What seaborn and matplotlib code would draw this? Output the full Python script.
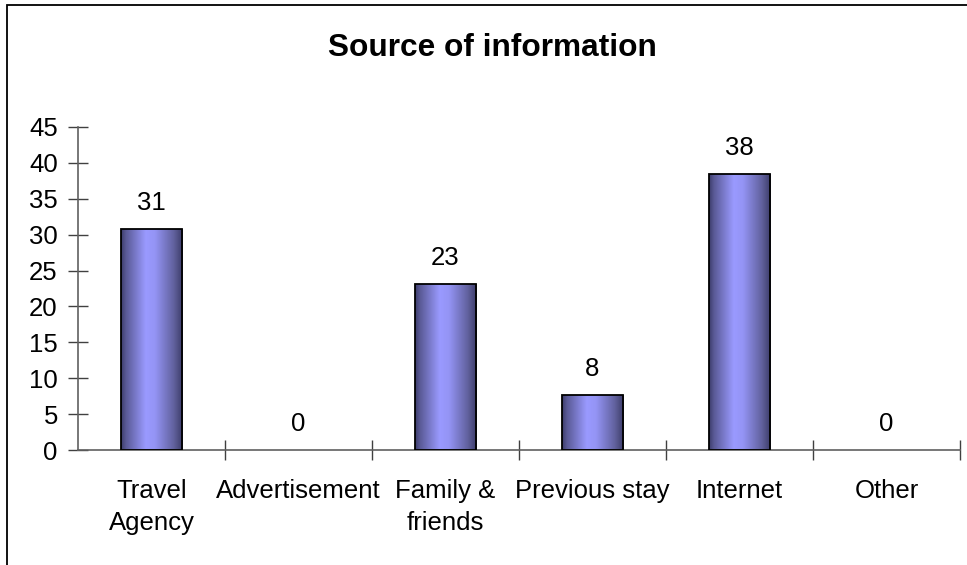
import numpy as np
import pandas as pd
import matplotlib
matplotlib.use("Agg")
import matplotlib.pyplot as plt
import seaborn as sns
from matplotlib.colors import LinearSegmentedColormap
from matplotlib.patches import Rectangle

categories = ["Travel\nAgency", "Advertisement", "Family &\nfriends", "Previous stay", "Internet", "Other"]
values = [30.8, 0, 23.1, 7.7, 38.5, 0]
yticks = [0, 5, 10, 15, 20, 25, 30, 35, 40, 45]
title = "Source of information"

df = pd.DataFrame({"cat": categories, "val": values})

sns.set_theme(style="white")
plt.rcParams["font.family"] = ["Liberation Sans", "DejaVu Sans"]
plt.rcParams["text.color"] = "black"
plt.rcParams["xtick.color"] = "black"
plt.rcParams["ytick.color"] = "black"

W, H = 967, 565
fig = plt.figure(figsize=(W / 100, H / 100), dpi=100)
ax = fig.add_axes([78 / W, 1 - 450 / H, (960 - 78) / W, (450 - 127) / H])

sns.barplot(data=df, x="cat", y="val", ax=ax, color="#9999ff", width=0.415,
            edgecolor="black", linewidth=1.3, saturation=1)

cmap = LinearSegmentedColormap.from_list(
    "cyl", [(0.0, "#3c3c6a"), (0.08, "#5a5a96"), (0.4, "#9a9aff"),
            (0.55, "#9494f5"), (0.85, "#62629f"), (1.0, "#3c3c68")])
grad = np.linspace(0, 1, 256).reshape(1, -1)
for p in list(ax.patches):
    x0, y0 = p.get_x(), p.get_y()
    w, h = p.get_width(), p.get_height()
    if h <= 0:
        p.set_visible(False)
        continue
    p.set_facecolor("none")
    p.set_zorder(3)
    im = ax.imshow(grad, cmap=cmap, aspect="auto", extent=[x0, x0 + w, y0, y0 + h],
                   zorder=2, interpolation="bicubic")
    im.set_clip_path(p)

ax.set_xlim(-0.5, len(categories) - 0.5)
ax.set_ylim(0, 45)
ax.set_yticks(yticks)
ax.set_yticklabels([str(t) for t in yticks], fontsize=18.5)
ax.set_xlabel("")
ax.set_ylabel("")

# data labels
for i, v in enumerate(values):
    ax.annotate(f"{v:.0f}", (i, v), xytext=(0, 10), textcoords="offset points",
                ha="center", va="bottom", fontsize=18.5, color="black")

# category labels
ax.set_xticks(range(len(categories)))
ax.set_xticklabels(categories, fontsize=18.5, linespacing=1.4)
ax.tick_params(axis="x", which="major", bottom=True, length=0, pad=21)
# separator ticks between categories
ax.set_xticks(np.arange(-0.5, len(categories), 1.0)[1:], minor=True)
ax.tick_params(axis="x", which="minor", bottom=True, direction="inout", length=15,
               width=1, color="#404040")
ax.tick_params(axis="y", which="major", left=True, direction="inout", length=15,
               width=1, color="#404040", pad=7)

for s in ["top", "right"]:
    ax.spines[s].set_visible(False)
for s in ["left", "bottom"]:
    ax.spines[s].set_color("#606060")
    ax.spines[s].set_linewidth(1.2)

fig.text(492 / W, 1 - 48 / H, title, ha="center", va="center", fontsize=22.8, fontweight="bold")

# outer chart frame
fig.patches.append(Rectangle((7 / W, -0.05), 1.1, 1 - 5 / H + 0.05, transform=fig.transFigure,
                             fill=False, edgecolor="black", linewidth=1.3))

fig.savefig("out.png", dpi=100)
